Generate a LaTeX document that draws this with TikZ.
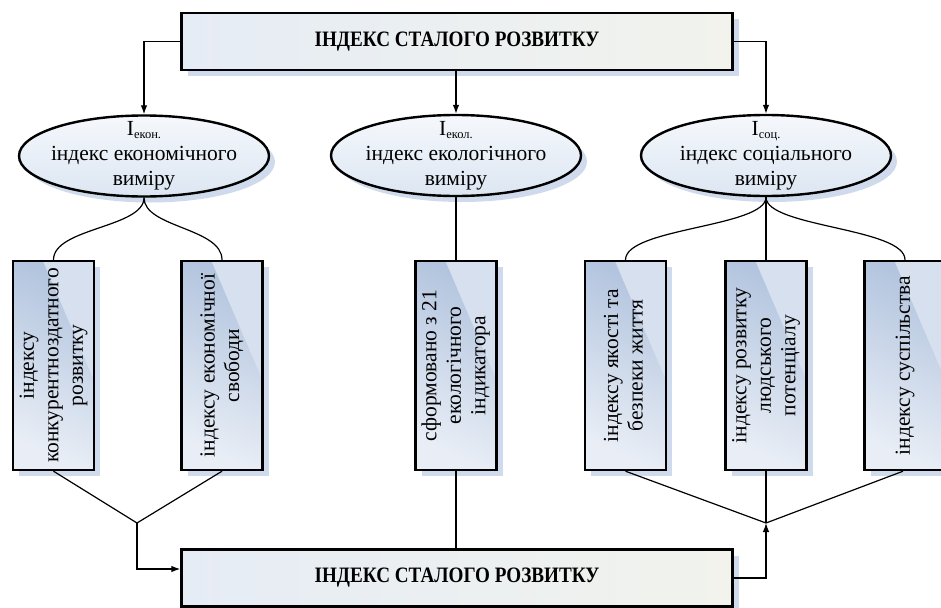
\documentclass[tikz,border=0pt]{standalone}
\usepackage{fontspec}
\setmainfont{Liberation Serif}
\usetikzlibrary{shapes.geometric,shadows,arrows.meta,calc}
\definecolor{boxlight}{HTML}{E9EEF6}
\definecolor{boxdark}{HTML}{B2C4DE}
\definecolor{boxhl}{HTML}{D6E0EE}
\definecolor{shadowc}{HTML}{CFDBEC}
\definecolor{titleleft}{HTML}{E6ECF5}
\definecolor{titleright}{HTML}{F1F3EC}
\definecolor{elltop}{HTML}{F5F8FC}
\definecolor{ellbot}{HTML}{DCE6F2}
\tikzset{
  conn/.style={line width=1.2pt, black},
  arr/.style={-{Latex[length=9pt,width=6.5pt]}},
  myshadow/.style={drop shadow={shadow xshift=6pt, shadow yshift=-6pt, fill=shadowc, opacity=1}},
  titlebox/.style={draw=black, line width=2.4pt, minimum width=551pt, minimum height=57pt, inner sep=0pt,
    left color=titleleft, right color=titleright, myshadow,
    font=\fontsize{22}{26}\selectfont\bfseries},
  ellbox/.style={ellipse, draw=black, line width=2.4pt, minimum width=250pt, minimum height=81pt, inner sep=0pt,
    top color=elltop, bottom color=ellbot, myshadow},
  elltext/.style={inner sep=0pt, font=\fontsize{21.5}{25}\selectfont, align=center},
  vbox/.style={draw=black, line width=2.4pt, minimum width=81pt, minimum height=209pt, inner sep=0pt,
    bottom color=boxlight, top color=boxdark, shading angle=-25, myshadow,
    font=\fontsize{21.5}{24.5}\selectfont,
    path picture={
      \fill[boxhl] ($(path picture bounding box.north west)!0.37!(path picture bounding box.north east)$)
        -- (path picture bounding box.north east)
        -- ($(path picture bounding box.north east)!0.57!(path picture bounding box.south east)$) -- cycle;
    }},
}
\newcommand{\vtext}[1]{\rotatebox{90}{\begin{tabular}{@{}c@{}}#1\end{tabular}}}
\newcommand{\ttl}{\scalebox{0.87}[1]{ІНДЕКС СТАЛОГО РОЗВИТКУ}}
\begin{document}
\begin{tikzpicture}[x=1pt,y=-1pt]
\useasboundingbox (0,0) rectangle (941,607);
% top and bottom boxes
\node[titlebox] (top) at (457,41.5) {\ttl};
\node[titlebox] (bot) at (457,578) {\ttl};
% ellipses
\node[ellbox] (e1) at (144,156) {};
\node[ellbox] (e2) at (456,155.5) {};
\node[ellbox] (e3) at (766,155.5) {};
\node[elltext] (e1t) at (e1) {I\raisebox{-3pt}{\fontsize{12.5}{13}\selectfont екон.}\\індекс економічного\\виміру};
\node[elltext] (e2t) at (e2) {I\raisebox{-3pt}{\fontsize{12.5}{13}\selectfont екол.}\\індекс екологічного\\виміру};
\node[elltext] (e3t) at (e3) {I\raisebox{-3pt}{\fontsize{12.5}{13}\selectfont соц.}\\індекс соціального\\виміру};
% vertical boxes
\node[vbox] (b1) at (53.5,365.5) {\vtext{індексу\\конкурентноздатного\\розвитку}};
\node[vbox] (b2) at (222,365.5) {\vtext{індексу економічної\\свободи}};
\node[vbox] (b3) at (456,365.5) {\vtext{сформовано з 21\\екологічного\\індикатора}};
\node[vbox] (b4) at (625.5,365.5) {\vtext{індексу якості та\\безпеки життя}};
\node[vbox] (b5) at (766,365.5) {\vtext{індексу розвитку\\людського\\потенціалу}};
\node[vbox] (b6) at (905,365.5) {\vtext{індексу суспільства}};
% top connectors
\draw[conn,arr] (top.west) -| (e1.north);
\draw[conn,arr] (top.south -| e2.north) -- (e2.north);
\draw[conn,arr] (top.east) -| (e3.north);
% ellipse to boxes
\draw[conn] (e1.south) .. controls +(0,30) and +(0,-32) .. (b1.north);
\draw[conn] (e1.south) .. controls +(0,30) and +(0,-32) .. (b2.north);
\draw[conn] (e2.south) -- (b3.north);
\draw[conn] (e3.south) .. controls +(0,30) and +(0,-32) .. (b4.north);
\draw[conn] (e3.south) -- (b5.north);
\draw[conn] (e3.south) .. controls +(0,30) and +(0,-32) .. (b6.north);
% bottom connectors
\coordinate (cL) at (137,523);
\coordinate (cR) at (766,523);
\draw[conn] (b1.south) -- (cL);
\draw[conn] (b2.south) -- (cL);
\draw[conn,arr] (cL) |- ([yshift=9pt]bot.west);
\draw[conn] (b3.south) -- (b3.south |- bot.north);
\draw[conn] (b4.south) -- (cR);
\draw[conn] (b5.south) -- (cR);
\draw[conn] ([xshift=-2pt]b6.south) -- (cR);
\draw[conn,arr] (bot.east) -| (cR);
\end{tikzpicture}
\end{document}
